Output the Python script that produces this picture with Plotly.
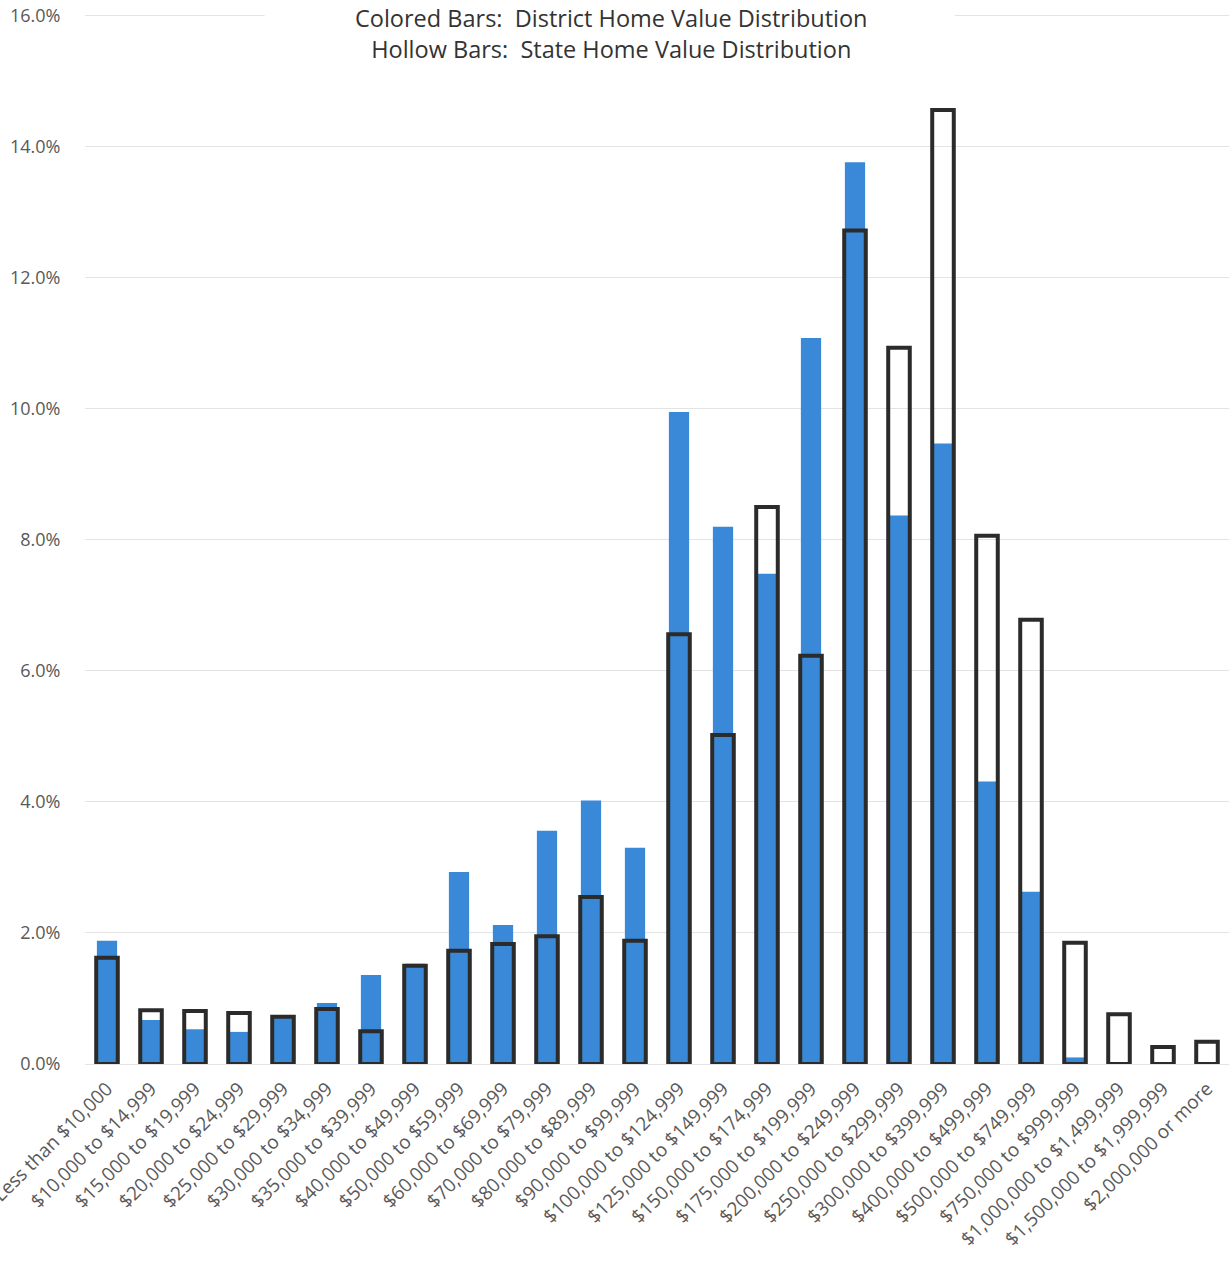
import plotly.graph_objects as go

# Home value brackets
categories = [
    "Less than $10,000", "$10,000 to $14,999", "$15,000 to $19,999",
    "$20,000 to $24,999", "$25,000 to $29,999", "$30,000 to $34,999",
    "$35,000 to $39,999", "$40,000 to $49,999", "$50,000 to $59,999",
    "$60,000 to $69,999", "$70,000 to $79,999", "$80,000 to $89,999",
    "$90,000 to $99,999", "$100,000 to $124,999", "$125,000 to $149,999",
    "$150,000 to $174,999", "$175,000 to $199,999", "$200,000 to $249,999",
    "$250,000 to $299,999", "$300,000 to $399,999", "$400,000 to $499,999",
    "$500,000 to $749,999", "$750,000 to $999,999", "$1,000,000 to $1,499,999",
    "$1,500,000 to $1,999,999", "$2,000,000 or more",
]

# Share of owner-occupied homes in each bracket (fractions)
district_share = [
    0.0188, 0.0067, 0.0053, 0.0049, 0.0073, 0.0093, 0.0136, 0.0153,
    0.0293, 0.0212, 0.0356, 0.0402, 0.0330, 0.0995, 0.0820, 0.0748,
    0.1108, 0.1376, 0.0837, 0.0947, 0.0431, 0.0263, 0.0010, 0.0002,
    0.0, 0.0,
]
state_share = [
    0.0162, 0.0082, 0.0081, 0.0078, 0.0072, 0.0084, 0.0050, 0.0150,
    0.0173, 0.0183, 0.0195, 0.0255, 0.0188, 0.0656, 0.0502, 0.0850,
    0.0623, 0.1272, 0.1093, 0.1456, 0.0806, 0.0678, 0.0185, 0.0076,
    0.0026, 0.0034,
]

y_ticks = [0.0, 0.02, 0.04, 0.06, 0.08, 0.10, 0.12, 0.14, 0.16]

FONT = "Open Sans, Lato, sans-serif"

fig = go.Figure()

# District: filled blue bars
fig.add_trace(go.Bar(
    x=categories, y=district_share, width=0.46,
    marker=dict(color="#3A88D8", line=dict(width=0)),
    name="District", hoverinfo="x+y",
))

# State: hollow outlined bars drawn over the district bars
fig.add_trace(go.Bar(
    x=categories, y=state_share, width=0.49,
    marker=dict(color="rgba(0,0,0,0)", line=dict(color="#2B2B2B", width=4)),
    name="State", hoverinfo="x+y",
))

fig.update_layout(
    width=1231, height=1262,
    margin=dict(l=85, r=2, t=9, b=198),
    barmode="overlay",
    showlegend=False,
    plot_bgcolor="white", paper_bgcolor="white",
    font=dict(family=FONT, color="#595959"),
)

fig.update_xaxes(
    type="category",
    tickangle=-45,
    tickfont=dict(size=19, color="#595959"),
    ticklabelstandoff=9,
    showgrid=False, showline=False, ticks="",
    automargin=False,
)

fig.update_yaxes(
    range=[0, 0.161],
    tickvals=y_ticks,
    tickformat=".1%",
    tickfont=dict(size=18, color="#595959"),
    showgrid=True, gridcolor="#E3E3E3", gridwidth=1,
    zeroline=True, zerolinecolor="#E3E3E3", zerolinewidth=1,
    showline=False, ticks="outside", ticklen=20, tickcolor="rgba(0,0,0,0)",
    automargin=False,
)

# White panel behind the heading, interrupting the top gridline
fig.add_shape(
    type="rect", xref="paper", yref="y",
    x0=0.157, x1=0.7605, y0=0.152, y1=0.161,
    fillcolor="white", line=dict(width=0), layer="above",
)

# Two-line chart heading
fig.add_annotation(
    xref="paper", yref="paper", x=0.4598, y=1.0, yanchor="top",
    xanchor="center", yshift=9,
    text="Colored Bars:  District Home Value Distribution<br>"
         "Hollow Bars:  State Home Value Distribution",
    showarrow=False, align="center",
    font=dict(size=23.5, color="#333333", family=FONT),
)

fig.write_html("out.html")
